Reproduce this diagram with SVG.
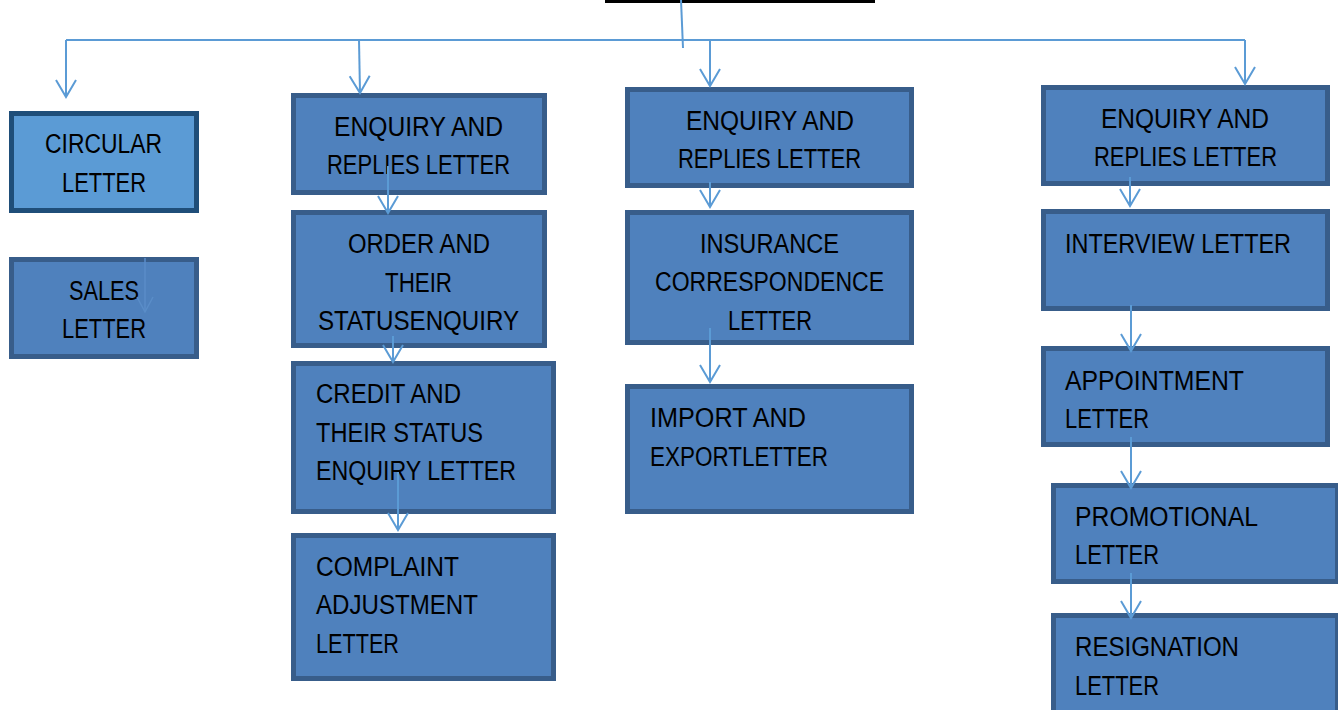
<svg xmlns="http://www.w3.org/2000/svg" width="1338" height="710" viewBox="0 0 1338 710">
<style>
.box{fill:#4F81BD;stroke:#385D8A;stroke-width:5}
.box2{fill:#5B9BD5;stroke:#1F4E79;stroke-width:5}
.t{font-family:"Liberation Sans",Arial,sans-serif;font-size:27px;fill:#000}
.c{text-anchor:middle}
.con{stroke:#5B9BD5;stroke-width:2;fill:none}
</style>
<defs>
<marker id="ah" markerUnits="userSpaceOnUse" markerWidth="30" markerHeight="30" viewBox="-20 -15 25 30" refX="0" refY="0" orient="auto" overflow="visible">
<path d="M-17,-10 L0,0 L-17,10" fill="none" stroke="#5B9BD5" stroke-width="2"/>
</marker>
<marker id="ah2" markerUnits="userSpaceOnUse" markerWidth="30" markerHeight="30" viewBox="-20 -15 25 30" refX="0" refY="0" orient="auto" overflow="visible">
<path d="M-15,-8 L0,0 L-15,8" fill="none" stroke="#5A8DC8" stroke-width="1.5"/>
</marker>
</defs>
<rect x="0" y="0" width="1338" height="710" fill="#fff"/>
<rect x="605" y="0" width="270" height="3" fill="#000"/>

<g id="circular"><rect class="box2" x="11.5" y="113.5" width="185" height="97"/>
<text class="t c" x="103.5" y="153" textLength="117" lengthAdjust="spacingAndGlyphs">CIRCULAR</text>
<text class="t c" x="104" y="192" textLength="84" lengthAdjust="spacingAndGlyphs">LETTER</text></g>

<g id="sales"><rect class="box" x="11.5" y="259.5" width="185" height="97"/>
<text class="t c" x="104" y="300" textLength="70" lengthAdjust="spacingAndGlyphs">SALES</text>
<text class="t c" x="104" y="338" textLength="84" lengthAdjust="spacingAndGlyphs">LETTER</text></g>

<g id="enquiry1"><rect class="box" x="293.5" y="95.5" width="251" height="97"/>
<text class="t c" x="418.5" y="136" textLength="169" lengthAdjust="spacingAndGlyphs">ENQUIRY AND</text>
<text class="t c" x="418.5" y="174" textLength="183" lengthAdjust="spacingAndGlyphs">REPLIES LETTER</text></g>

<g id="order"><rect class="box" x="293.5" y="212.5" width="251" height="133"/>
<text class="t c" x="419" y="253" textLength="142" lengthAdjust="spacingAndGlyphs">ORDER AND</text>
<text class="t c" x="418.5" y="292" textLength="67" lengthAdjust="spacingAndGlyphs">THEIR</text>
<text class="t c" x="418.5" y="330" textLength="201" lengthAdjust="spacingAndGlyphs">STATUSENQUIRY</text></g>

<g id="credit"><rect class="box" x="293.5" y="363.5" width="260" height="148"/>
<text class="t" x="316" y="403" textLength="145" lengthAdjust="spacingAndGlyphs">CREDIT AND</text>
<text class="t" x="316" y="442" textLength="167" lengthAdjust="spacingAndGlyphs">THEIR STATUS</text>
<text class="t" x="316" y="480" textLength="200" lengthAdjust="spacingAndGlyphs">ENQUIRY LETTER</text></g>

<g id="complaint"><rect class="box" x="293.5" y="535.5" width="260" height="143"/>
<text class="t" x="316" y="576" textLength="143" lengthAdjust="spacingAndGlyphs">COMPLAINT</text>
<text class="t" x="316" y="614" textLength="162" lengthAdjust="spacingAndGlyphs">ADJUSTMENT</text>
<text class="t" x="316" y="653" textLength="83" lengthAdjust="spacingAndGlyphs">LETTER</text></g>

<g id="enquiry2"><rect class="box" x="627.5" y="89.5" width="284" height="96"/>
<text class="t c" x="770" y="130" textLength="168" lengthAdjust="spacingAndGlyphs">ENQUIRY AND</text>
<text class="t c" x="769.5" y="168" textLength="183" lengthAdjust="spacingAndGlyphs">REPLIES LETTER</text></g>

<g id="insurance"><rect class="box" x="627.5" y="212.5" width="284" height="130"/>
<text class="t c" x="769.5" y="253" textLength="139" lengthAdjust="spacingAndGlyphs">INSURANCE</text>
<text class="t c" x="769.5" y="291" textLength="229" lengthAdjust="spacingAndGlyphs">CORRESPONDENCE</text>
<text class="t c" x="770" y="330" textLength="84" lengthAdjust="spacingAndGlyphs">LETTER</text></g>

<g id="import"><rect class="box" x="627.5" y="386.5" width="284" height="125"/>
<text class="t" x="650" y="427" textLength="156" lengthAdjust="spacingAndGlyphs">IMPORT AND</text>
<text class="t" x="650" y="466" textLength="178" lengthAdjust="spacingAndGlyphs">EXPORTLETTER</text></g>

<g id="enquiry3"><rect class="box" x="1043.5" y="87.5" width="284" height="96"/>
<text class="t c" x="1185" y="128" textLength="168" lengthAdjust="spacingAndGlyphs">ENQUIRY AND</text>
<text class="t c" x="1185.5" y="166" textLength="183" lengthAdjust="spacingAndGlyphs">REPLIES LETTER</text></g>

<g id="interview"><rect class="box" x="1043.5" y="211.5" width="284" height="97"/>
<text class="t" x="1065" y="253" textLength="226" lengthAdjust="spacingAndGlyphs">INTERVIEW LETTER</text></g>

<g id="appointment"><rect class="box" x="1043.5" y="348.5" width="284" height="96"/>
<text class="t" x="1065" y="390" textLength="179" lengthAdjust="spacingAndGlyphs">APPOINTMENT</text>
<text class="t" x="1065" y="428" textLength="84" lengthAdjust="spacingAndGlyphs">LETTER</text></g>

<g id="promotional"><rect class="box" x="1053.5" y="485.5" width="284" height="96"/>
<text class="t" x="1075" y="526" textLength="183" lengthAdjust="spacingAndGlyphs">PROMOTIONAL</text>
<text class="t" x="1075" y="564" textLength="84" lengthAdjust="spacingAndGlyphs">LETTER</text></g>

<g id="resignation"><rect class="box" x="1053.5" y="615.5" width="284" height="110"/>
<text class="t" x="1075" y="656" textLength="164" lengthAdjust="spacingAndGlyphs">RESIGNATION</text>
<text class="t" x="1075" y="695" textLength="84" lengthAdjust="spacingAndGlyphs">LETTER</text></g>

<g id="connectors">
<line class="con" x1="681" y1="0" x2="683" y2="48"/>
<line class="con" x1="66" y1="40" x2="1245" y2="40"/>
<line class="con" x1="66" y1="40" x2="66" y2="97" marker-end="url(#ah)"/>
<line class="con" x1="359" y1="40" x2="360" y2="93" marker-end="url(#ah)"/>
<line class="con" x1="710" y1="40" x2="710" y2="86" marker-end="url(#ah)"/>
<line class="con" x1="1245" y1="40" x2="1245" y2="84" marker-end="url(#ah)"/>
<line class="con" x1="388" y1="166" x2="388" y2="213" marker-end="url(#ah)"/>
<line class="con" x1="393" y1="336" x2="393" y2="362" marker-end="url(#ah)"/>
<line class="con" x1="398" y1="472" x2="398" y2="530" marker-end="url(#ah)"/>
<line class="con" x1="710" y1="182" x2="710" y2="207" marker-end="url(#ah)"/>
<line class="con" x1="710" y1="328" x2="710" y2="382" marker-end="url(#ah)"/>
<line class="con" x1="1130" y1="177" x2="1130" y2="206" marker-end="url(#ah)"/>
<line class="con" x1="1131" y1="305" x2="1131" y2="351" marker-end="url(#ah)"/>
<line class="con" x1="1131" y1="437" x2="1131" y2="488" marker-end="url(#ah)"/>
<line class="con" x1="1131" y1="573" x2="1131" y2="618" marker-end="url(#ah)"/>
<line x1="145" y1="258" x2="145" y2="312" stroke="#5A8DC8" stroke-width="1.5" marker-end="url(#ah2)"/>
</g>
</svg>
